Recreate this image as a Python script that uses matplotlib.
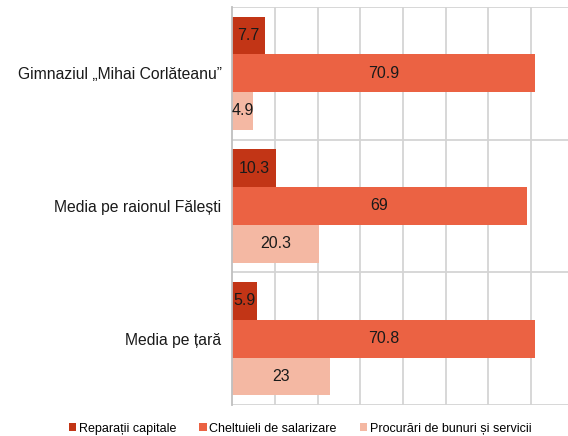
import numpy as np
import matplotlib.pyplot as plt

plt.rcParams['font.family'] = ['Liberation Sans', 'DejaVu Sans']

categories = ['Gimnaziul „Mihai Corlăteanu”', 'Media pe raionul Fălești', 'Media pe țară']
series = ['Reparații capitale', 'Cheltuieli de salarizare', 'Procurări de bunuri și servicii']
reparatii = [7.7, 10.3, 5.9]
salarizare = [70.9, 69, 70.8]
procurari = [4.9, 20.3, 23]
value_labels = [['7.7', '10.3', '5.9'], ['70.9', '69', '70.8'], ['4.9', '20.3', '23']]
colors = ['#C23516', '#EB6243', '#F4B8A3']

fig = plt.figure(figsize=(5.68, 4.36), dpi=100)
ax = fig.add_axes([0.4085, 0.0711, 0.5915, 0.9129])

y = np.arange(len(categories))
h = 0.284
data = [reparatii, salarizare, procurari]
for k, vals in enumerate(data):
    pos = y + (k - 1) * h
    bars = ax.barh(pos, vals, height=h, color=colors[k], label=series[k],
                   edgecolor='none', zorder=2)
    for b, txt in zip(bars, value_labels[k]):
        ax.text(b.get_width() / 2, b.get_y() + h / 2, txt, ha='center', va='center',
                fontsize=11.5, color='#1a1a1a', zorder=3)

ax.set_xlim(0, 78.6)
ax.set_ylim(2.5, -0.5)
ax.set_xticks(np.arange(10, 80, 10))
ax.tick_params(axis='x', length=0, labelbottom=False)
ax.xaxis.grid(True, color='#D4D4D4', linewidth=1.3, zorder=0)
for yb in [-0.5, 0.5, 1.5, 2.5]:
    ax.axhline(yb, color='#D4D4D4', linewidth=1.3, zorder=1)

ax.set_yticks(y)
ax.set_yticklabels(categories, fontsize=11.3, color='#1a1a1a')
ax.tick_params(axis='y', length=0, pad=7.5)

for s in ['top', 'right', 'bottom']:
    ax.spines[s].set_visible(False)
ax.spines['left'].set_color('#BFBFBF')
ax.spines['left'].set_linewidth(1.3)

fig.legend(loc='lower center', bbox_to_anchor=(0.528, -0.023), ncol=3, frameon=False,
           fontsize=9, handlelength=0.6, handleheight=0.6, handletextpad=0.2,
           columnspacing=1.85)

fig.savefig('out.png', dpi=100)
